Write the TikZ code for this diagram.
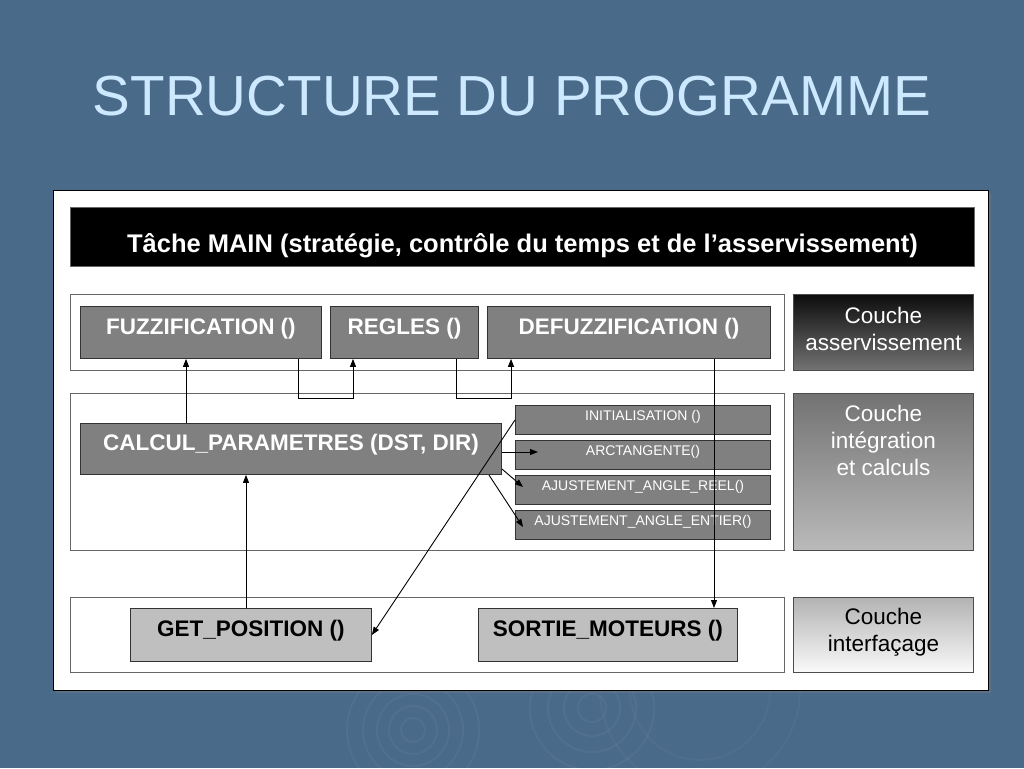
\documentclass[tikz,border=0pt]{standalone}
\usepackage{fontspec}
\setmainfont{Liberation Sans}
\usetikzlibrary{arrows.meta,shadows}
\definecolor{slide}{HTML}{4A6A8A}
\definecolor{titleblue}{HTML}{CDE9FF}
\tikzset{
	layer/.style={draw=black!60, anchor=north west, inner sep=0pt, minimum width=714pt},
	func/.style={draw=black!80, fill=black!50, text=white, anchor=north west, inner sep=0pt,
		font=\fontsize{22.5}{26}\selectfont\bfseries, text height=15.7pt, text depth=12pt},
	iface/.style={func, fill=black!25, text=black},
	sub/.style={draw=black!80, fill=black!50, text=white, anchor=north west, inner sep=0pt,
		minimum width=255pt, minimum height=29pt, font=\fontsize{14}{16}\selectfont,
		text height=10pt, text depth=8.6pt},
	couche/.style={draw=black!70, anchor=north west, inner sep=0pt, minimum width=180pt,
		align=center, font=\fontsize{22.5}{27}\selectfont},
}
\begin{document}
\begin{tikzpicture}[x=1pt, y=-1pt, line width=0.9pt, >={Triangle[length=8pt,width=6pt]}]
	\useasboundingbox (0,0) rectangle (1024,768);
	\fill[slide] (0,0) rectangle (1024,768);
	% ripples in the background
	\foreach \r in {12,24,36,50,66} \draw[white, opacity=.04, line width=2pt] (413,730) circle (\r);
	\foreach \r in {14,28,44,62} \draw[white, opacity=.04, line width=2pt] (592,708) circle (\r);
	\foreach \r in {70,100} \draw[white, opacity=.03, line width=2pt] (700,690) circle (\r);
	\node[text=titleblue, font=\fontsize{56.5}{60}\selectfont] (title) at (512,96) {STRUCTURE DU PROGRAMME};
	\node[fill=white, draw=black, anchor=north west, inner sep=0pt, minimum width=935pt, minimum height=500pt,
		drop shadow={opacity=.35}] (panel) at (53,190) {};
	\node[fill=black, draw=black!60, anchor=north west, inner sep=0pt, minimum width=904pt, minimum height=59pt,
		text=white, font=\fontsize{25.5}{28}\selectfont\bfseries, text height=34pt, text depth=3pt]
		(main) at (70,207) {Tâche MAIN (stratégie, contrôle du temps et de l’asservissement)};
	% layers
	\node[layer, minimum height=76pt] (lasserv) at (70,294) {};
	\node[layer, minimum height=157pt] (lcalc) at (70,393) {};
	\node[layer, minimum height=75pt] (liface) at (70,597) {};
	\node[couche, minimum height=76pt, top color=black!95, bottom color=black!55, text=white,
		text depth=8pt] (casserv) at (793,294) {Couche\\asservissement};
	\node[couche, minimum height=157pt, top color=black!55, bottom color=black!27, text=white,
		text height=70pt, text depth=63pt] (cinteg) at (793,393) {Couche\\intégration\\et calculs};
	\node[couche, minimum height=75pt, top color=black!30, bottom color=black!2,
		text depth=10.5pt] (ciface) at (793,597) {Couche\\interfaçage};
	% functions
	\node[func, minimum width=241pt, minimum height=52pt] (fuzz) at (80,306) {FUZZIFICATION ()};
	\node[func, minimum width=148pt, minimum height=52pt] (regles) at (330,306) {REGLES ()};
	\node[func, minimum width=283pt, minimum height=52pt] (defuzz) at (487,306) {DEFUZZIFICATION ()};
	\node[func, minimum width=421pt, minimum height=51pt] (calc) at (80,423) {CALCUL\_PARAMETRES (DST, DIR)};
	\node[sub] (init) at (515,405) {INITIALISATION ()};
	\node[sub] (arctan) at (515,440) {ARCTANGENTE()};
	\node[sub] (reel) at (515,475) {AJUSTEMENT\_ANGLE\_REEL()};
	\node[sub] (entier) at (515,510) {AJUSTEMENT\_ANGLE\_ENTIER()};
	\node[iface, minimum width=241pt, minimum height=53pt] (getpos) at (130,608) {GET\_POSITION ()};
	\node[iface, minimum width=259pt, minimum height=53pt] (sortie) at (478,608) {SORTIE\_MOTEURS ()};
	% links
	\draw[->] ([xshift=106pt]calc.north west) -- ([xshift=106pt]fuzz.south west);
	\draw[->] ([xshift=218pt]fuzz.south west) -- ++(0,40) -| ([xshift=23pt]regles.south west);
	\draw[->] ([xshift=126pt]regles.south west) -- ++(0,40) -| ([xshift=24pt]defuzz.south west);
	\draw[->] ([xshift=227pt]defuzz.south west) -- ([xshift=236pt]sortie.north west);
	\draw[->] ([xshift=116pt]getpos.north west) -- ([xshift=166pt]calc.south west);
	\draw[->] (init.west) -- (getpos.east);
	\coordinate (arctip) at (538,452);
	\coordinate (reeltip) at (523,487);
	\coordinate (entiertip) at (523,527);
	\draw[->] (calc.east |- arctip) -- (arctip);
	\draw[->] ([yshift=-20pt]calc.east) -- (reeltip);
	\draw[->] ([xshift=-13pt]calc.south east) -- (entiertip);
\end{tikzpicture}
\end{document}
